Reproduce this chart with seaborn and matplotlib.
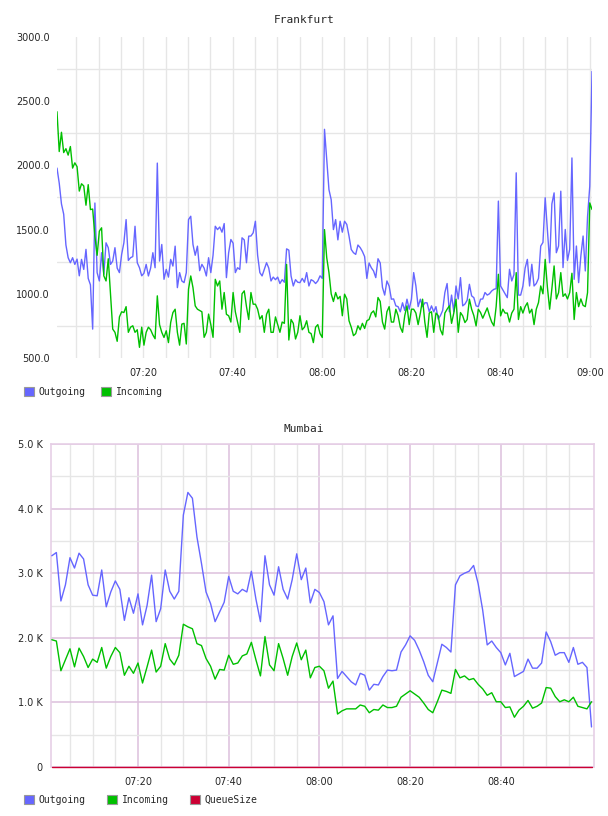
import pandas as pd
import numpy as np
import seaborn as sns
import matplotlib.pyplot as plt
import matplotlib.dates as mdates
from matplotlib.patches import Patch
from matplotlib.ticker import FuncFormatter

# Frankfurt, one sample every ~30 s (07:00:40 .. 09:00:30)
fra_out = [
    1979, 1862, 1700, 1620, 1380, 1281, 1242, 1281, 1229, 1270,
    1140, 1268, 1190, 1346, 1120, 1070, 725, 1707, 1165, 1100,
    1320, 1152, 1397, 1359, 1229, 1255, 1359, 1200, 1165, 1307,
    1397, 1578, 1260, 1281, 1290, 1526, 1242, 1203, 1140, 1160,
    1229, 1139, 1200, 1320, 1203, 2018, 1255, 1384, 1113, 1190,
    1130, 1268, 1216, 1371, 1048, 1165, 1100, 1087, 1165, 1578,
    1604,
    1384, 1300, 1371, 1180, 1229, 1200, 1139, 1281, 1165, 1300,
    1526, 1500, 1520, 1480, 1547, 1126, 1320, 1423, 1394, 1165,
    1203, 1190, 1436, 1420, 1242, 1449, 1450, 1475, 1565, 1300,
    1165, 1139, 1190, 1242, 1200, 1100, 1130, 1110, 1130, 1080,
    1110, 1090, 1350, 1340, 1139, 1061, 1110, 1090, 1087, 1120,
    1090, 1165, 1061, 1110, 1100, 1080, 1100, 1140, 1120, 2281,
    2050, 1811, 1733, 1500, 1578, 1420, 1565, 1480, 1565, 1540,
    1449, 1345, 1320, 1307, 1380, 1360, 1330, 1290, 1120, 1240,
    1203, 1178, 1126, 1273, 1240, 1050, 990, 1100, 1060, 958,
    960, 906, 900, 860, 930, 870, 958, 880, 958, 1165,
    1061, 900, 958, 900, 930, 930, 860, 906, 860, 900,
    803, 830, 870, 1010, 1080, 860, 990, 860, 1061, 960,
    1126, 906, 920, 950, 1074, 984, 970, 906, 900, 958,
    960, 1010, 990, 1000, 1022, 1035, 1040, 1722, 1061, 1030,
    1000, 970, 1191, 1100, 1150, 1942, 990, 990, 1060, 1200,
    1268, 1061, 1230, 1061, 1080, 1120, 1372, 1400, 1748, 1500,
    1242, 1700, 1786, 1320, 1372, 1799, 1204, 1501, 1260, 1346,
    2058, 1113, 1372, 1087, 1294, 1450, 1178, 1600, 1838, 2732,
]
fra_in = [
    2418, 2108, 2258, 2100, 2130, 2080, 2147, 1979, 2020, 1990,
    1800, 1857, 1840, 1690, 1850, 1656, 1660, 1449, 1300, 1488,
    1514, 1140, 1100, 1273, 1000, 725, 700, 630, 820, 860,
    854, 900, 700, 740, 751, 700, 720, 583, 740, 600,
    700, 740, 720, 680, 650, 984, 760, 700, 660, 712,
    620, 777, 854, 880, 700, 600, 764, 770, 609, 1036,
    1139,
    1048, 906, 880, 870, 860, 661, 700, 842, 760, 661,
    1113, 1061, 1100, 880, 1010, 840, 829, 780, 1010, 860,
    780, 700, 1000, 1023, 900, 800, 1010, 919, 919, 880,
    803, 830, 700, 840, 880, 700, 700, 820, 760, 700,
    780, 770, 1229, 640, 800, 770, 648, 700, 829, 720,
    740, 790, 700, 690, 620, 740, 760, 690, 660, 1500,
    1281, 1165, 1000, 940, 1010, 960, 980, 829, 997, 960,
    790, 740, 674, 690, 751, 720, 770, 730, 790, 800,
    850, 867, 820, 971, 940, 780, 725, 860, 900, 780,
    780, 880, 830, 740, 700, 830, 906, 760, 880, 880,
    850, 760, 850, 958, 780, 661, 850, 860, 700, 850,
    830, 720, 680, 850, 880, 906, 770, 850, 958, 700,
    854, 828, 776, 800, 958, 880, 830, 750, 880, 854,
    810, 850, 890, 830, 780, 750, 900, 1152, 828, 880,
    850, 850, 780, 850, 880, 1165, 800, 900, 850, 900,
    930, 850, 880, 760, 880, 932, 1061, 1000, 1268, 1050,
    880, 1040, 1217, 960, 1009, 1165, 980, 1000, 960, 1009,
    1160, 800, 1010, 900, 960, 910, 900, 1009, 1708, 1657,
]

# Mumbai, one sample per minute (07:01 .. 09:00), in K
mum_out = [
    3.27, 3.32, 2.57, 2.82, 3.24, 3.08, 3.31, 3.22, 2.82, 2.66,
    2.65, 3.05, 2.48, 2.71, 2.88, 2.75, 2.27, 2.62, 2.38, 2.68,
    2.20, 2.50, 2.97, 2.25, 2.45, 3.05, 2.72, 2.60, 2.72, 3.90,
    4.25, 4.16, 3.56, 3.15, 2.71, 2.53, 2.25, 2.40, 2.55, 2.95,
    2.72, 2.68, 2.75, 2.71, 3.03, 2.60, 2.25, 3.27, 2.82, 2.66,
    3.10, 2.75, 2.60, 2.90, 3.30, 2.90, 3.08, 2.54, 2.75, 2.70,
    2.56, 2.20, 2.34, 1.37, 1.48, 1.40, 1.32, 1.27, 1.45, 1.42,
    1.19, 1.28, 1.27, 1.40, 1.50, 1.49, 1.50, 1.78, 1.89, 2.03,
    1.96, 1.81, 1.63, 1.42, 1.32, 1.61, 1.90, 1.85, 1.78, 2.82,
    2.96, 3.00, 3.03, 3.12, 2.84, 2.43, 1.89, 1.95, 1.85, 1.77,
    1.58, 1.76, 1.40, 1.44, 1.48, 1.67, 1.53, 1.53, 1.61, 2.09,
    1.94, 1.73, 1.77, 1.77, 1.62, 1.85, 1.59, 1.62, 1.54, 0.62,
]
mum_in = [
    1.97, 1.95, 1.49, 1.66, 1.83, 1.55, 1.84, 1.71, 1.54, 1.67,
    1.62, 1.85, 1.53, 1.71, 1.85, 1.77, 1.42, 1.56, 1.45, 1.61,
    1.30, 1.55, 1.81, 1.47, 1.56, 1.91, 1.67, 1.58, 1.73, 2.21,
    2.17, 2.14, 1.91, 1.88, 1.68, 1.56, 1.36, 1.51, 1.50, 1.73,
    1.59, 1.61, 1.72, 1.75, 1.93, 1.66, 1.41, 2.02, 1.58, 1.49,
    1.91, 1.68, 1.42, 1.71, 1.92, 1.66, 1.81, 1.38, 1.54, 1.56,
    1.49, 1.22, 1.33, 0.82, 0.87, 0.90, 0.90, 0.90, 0.96, 0.94,
    0.84, 0.89, 0.88, 0.96, 0.92, 0.92, 0.94, 1.08, 1.13, 1.18,
    1.13, 1.08, 0.99, 0.89, 0.84, 1.01, 1.19, 1.17, 1.14, 1.51,
    1.38, 1.41, 1.35, 1.37, 1.28, 1.21, 1.11, 1.15, 1.01, 1.01,
    0.92, 0.93, 0.77, 0.88, 0.94, 1.03, 0.91, 0.94, 0.99, 1.23,
    1.22, 1.09, 1.01, 1.04, 1.01, 1.08, 0.94, 0.92, 0.90, 1.01,
]
mum_queue = [0] * len(mum_out)  # queue stays at zero the whole time

colors = {'Outgoing': '#6666FF', 'Incoming': '#00C000', 'QueueSize': '#CC0033'}
grid_gray = '#E6E6E6'
grid_pink = '#DCC0DC'

fra_t = pd.date_range('2024-01-01 07:00:40', '2024-01-01 09:00:30', periods=len(fra_out))
mum_t = pd.date_range('2024-01-01 07:01:00', periods=len(mum_out), freq='min')

fra = pd.concat([
    pd.DataFrame({'time': fra_t, 'value': fra_out, 'series': 'Outgoing'}),
    pd.DataFrame({'time': fra_t, 'value': fra_in, 'series': 'Incoming'}),
])
mum = pd.concat([
    pd.DataFrame({'time': mum_t, 'value': np.array(mum_out) * 1000, 'series': 'Outgoing'}),
    pd.DataFrame({'time': mum_t, 'value': np.array(mum_in) * 1000, 'series': 'Incoming'}),
    pd.DataFrame({'time': mum_t, 'value': mum_queue, 'series': 'QueueSize'}),
])

sns.set_theme(style='white')
plt.rcParams['font.family'] = ['DejaVu Sans']

fig = plt.figure(figsize=(6.08, 8.16), dpi=100)
W, H = 608, 816
ax1 = fig.add_axes([57 / W, 1 - 358 / H, 535 / W, 321 / H])
ax2 = fig.add_axes([51 / W, 1 - 767 / H, 543 / W, 323 / H])

# ---- Frankfurt
sns.lineplot(data=fra, x='time', y='value', hue='series', palette=colors,
             estimator=None, linewidth=1.0, legend=False, ax=ax1)
ax1.set_xlim(fra_t[0], fra_t[-1])
ax1.set_ylim(500, 3000)
ax1.set_yticks(np.arange(500, 3001, 500))
ax1.set_yticks(np.arange(750, 3000, 500), minor=True)
ax1.yaxis.set_major_formatter(FuncFormatter(lambda v, p: f'{v:.1f}'))
ax1.xaxis.set_major_locator(mdates.MinuteLocator(byminute=[0, 20, 40]))
ax1.xaxis.set_minor_locator(mdates.MinuteLocator(byminute=range(0, 60, 5)))
ax1.xaxis.set_major_formatter(mdates.DateFormatter('%H:%M'))
ax1.grid(False)
ax1.xaxis.grid(True, which='both', color=grid_gray, linewidth=1.0)
ax1.yaxis.grid(True, which='minor', color=grid_gray, linewidth=1.0)
ax1.set_axisbelow(True)
for s in ax1.spines.values():
    s.set_visible(False)
ax1.set_xlabel('')
ax1.set_ylabel('')
ax1.tick_params(axis='x', which='both', length=0, pad=7.5, labelsize=7)
ax1.tick_params(axis='y', which='both', length=0, pad=5, labelsize=7)

# ---- Mumbai
sns.lineplot(data=mum, x='time', y='value', hue='series', palette=colors,
             estimator=None, linewidth=1.0, legend=False, ax=ax2)
for ln in ax2.lines:
    ln.set_clip_on(False)
    ln.set_zorder(3)
ax2.set_xlim(pd.Timestamp('2024-01-01 07:00:49'), pd.Timestamp('2024-01-01 09:00:33'))
ax2.set_ylim(0, 5000)
ax2.set_yticks(np.arange(0, 5001, 1000))
ax2.set_yticks(np.arange(500, 5000, 1000), minor=True)
ax2.yaxis.set_major_formatter(FuncFormatter(lambda v, p: '0' if v == 0 else f'{v / 1000:.1f} K'))
mum_major = pd.to_datetime(['2024-01-01 07:20', '2024-01-01 07:40', '2024-01-01 08:00',
                            '2024-01-01 08:20', '2024-01-01 08:40'])
ax2.set_xticks(mum_major)
ax2.xaxis.set_minor_locator(mdates.MinuteLocator(byminute=[5, 10, 15, 25, 30, 35, 45, 50, 55]))
ax2.xaxis.set_major_formatter(mdates.DateFormatter('%H:%M'))
ax2.grid(False)
ax2.grid(True, which='minor', color=grid_gray, linewidth=1.0)
ax2.grid(True, which='major', color=grid_pink, linewidth=1.1)
ax2.set_axisbelow(True)
for s in ax2.spines.values():
    s.set_color('#E6CFE6')
    s.set_linewidth(1.2)
ax2.spines['bottom'].set_visible(False)
ax2.set_xlabel('')
ax2.set_ylabel('')
ax2.tick_params(axis='x', which='both', length=0, pad=7.5, labelsize=7)
ax2.tick_params(axis='y', which='both', length=0, pad=5.8, labelsize=7)

# titles
mono = 'DejaVu Sans Mono'
fig.text(0.5, 1 - 20 / H, 'Frankfurt', ha='center', va='center', family=mono, fontsize=8)
fig.text(0.5, 1 - 429 / H, 'Mumbai', ha='center', va='center', family=mono, fontsize=8)

# legends
def boxes(names):
    return [Patch(facecolor=colors[n], edgecolor='#999999', linewidth=0.8, label=n) for n in names]

fig.legend(handles=boxes(['Outgoing', 'Incoming']), loc='center left',
           bbox_to_anchor=(24 / W, 1 - 392 / H), ncol=2, frameon=False,
           prop={'family': mono, 'size': 7}, handlelength=1.0, handleheight=1.0,
           handletextpad=0.5, columnspacing=1.6, borderpad=0, borderaxespad=0)
fig.legend(handles=boxes(['Outgoing', 'Incoming', 'QueueSize']), loc='center left',
           bbox_to_anchor=(24 / W, 1 - 800 / H), ncol=3, frameon=False,
           prop={'family': mono, 'size': 7}, handlelength=1.0, handleheight=1.0,
           handletextpad=0.5, columnspacing=2.2, borderpad=0, borderaxespad=0)

fig.savefig('out.png', dpi=100)
